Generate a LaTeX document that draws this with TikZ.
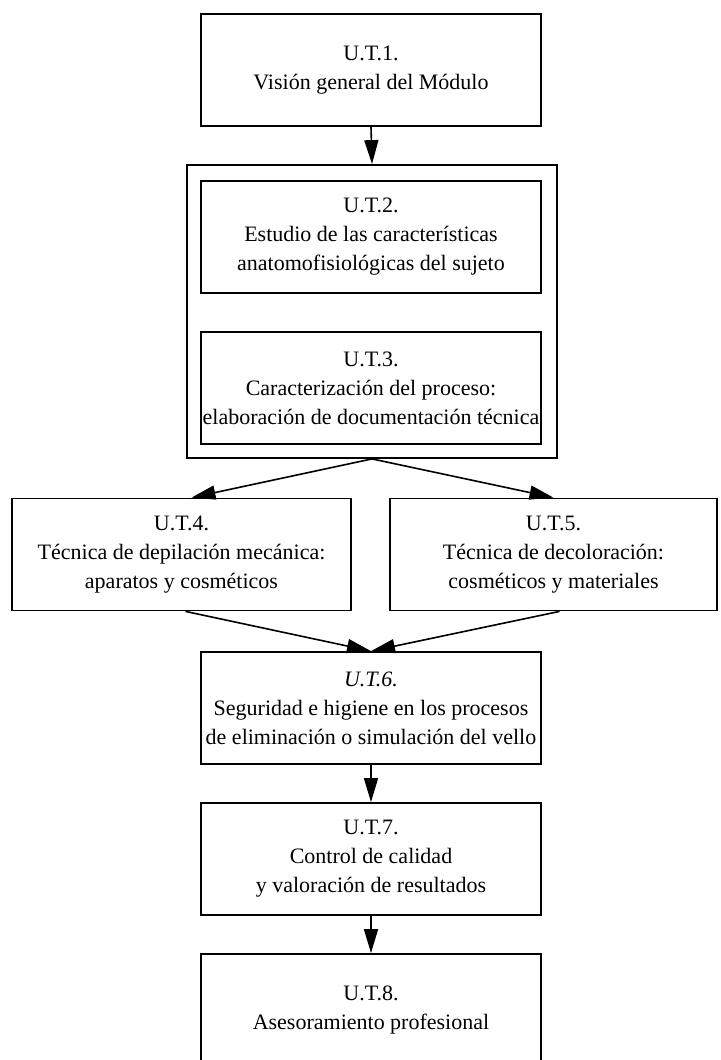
\documentclass[tikz,border=0pt]{standalone}
\usepackage{fontspec}
\setmainfont{Liberation Serif}
\usepackage{tikz}
\usetikzlibrary{arrows.meta}
\tikzset{>={Triangle[length=12pt,width=7pt]}}
\tikzset{
  unit/.style={draw,line width=0.9pt,minimum width=170pt,minimum height=56pt,
    align=center,inner sep=0pt,font=\fontsize{11}{14.5}\selectfont},
  link/.style={->,line width=0.8pt}
}

\begin{document}
\begin{tikzpicture}[x=0.5pt,y=-0.5pt]
          \useasboundingbox (0,0) rectangle (721,1060);

          % Units
          \node[unit] at (371,70)   (u1) {U.T.1.\\Visión general del Módulo};
          \node[draw,line width=0.9pt,minimum width=185pt,minimum height=146.5pt] at (372,311.5) (block) {};
          \node[unit] at (371,237)  (u2) {U.T.2.\\Estudio de las características\\anatomofisiológicas del sujeto};
          \node[unit] at (371,388)  (u3) {U.T.3.\\Caracterización del proceso:\\elaboración de documentación técnica};
          \node[unit,minimum width=169.5pt] at (181.5,554.5) (u4) {U.T.4.\\Técnica de depilación mecánica:\\aparatos y cosméticos};
          \node[unit,minimum width=163.5pt] at (553.5,554.5) (u5) {U.T.5.\\Técnica de decoloración:\\cosméticos y materiales};
          \node[unit] at (371,708)  (u6) {\textit{U.T.6.}\\Seguridad e higiene en los procesos\\de eliminación o simulación del vello};
          \node[unit] at (371,859)  (u7) {U.T.7.\\Control de calidad\\y valoración de resultados};
          \node[unit] at (371,1010) (u8) {U.T.8.\\Asesoramiento profesional};

          % Arrows
          \draw[link] (u1.south) -- (block.north);
          \draw[link] (block.south) -- ([xshift=5pt]u4.north);
          \draw[link] (block.south) -- (u5.north);
          \draw[link] ([xshift=2pt]u4.south) -- (u6.north);
          \draw[link] ([xshift=3pt]u5.south) -- (u6.north);
          \draw[link] (u6.south) -- (u7.north);
          \draw[link] (u7.south) -- (u8.north);

        \end{tikzpicture}
\end{document}
